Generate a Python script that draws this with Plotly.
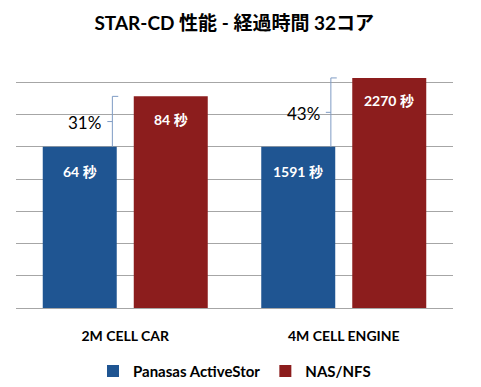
import plotly.graph_objects as go

categories = ["2M CELL CAR", "4M CELL ENGINE"]
series_names = ["Panasas ActiveStor", "NAS/NFS"]
panasas_sec = [64, 1591]
nas_sec = [84, 2270]
title_text = "STAR-CD 性能 - 経過時間 32コア"
unit = "秒"

BLUE = "#1F5592"
RED = "#8C1D1D"
BRACE = "#7F9CC4"
FONT = "Lato, 'Noto Sans CJK JP', sans-serif"

# normalised heights (Panasas = 1.0)
blue_h = [p / p for p in panasas_sec]
red_h = [n / p for n, p in zip(nas_sec, panasas_sec)]

fig = go.Figure()
fig.add_trace(go.Bar(x=categories, y=blue_h, name=series_names[0],
                     marker=dict(color=BLUE, line=dict(width=0)), hoverinfo="skip"))
fig.add_trace(go.Bar(x=categories, y=red_h, name=series_names[1],
                     marker=dict(color=RED, line=dict(width=0)), hoverinfo="skip"))

annotations = []
shapes = []
slot = 0.5 * (1 - 0.167)  # bar slot width in category units
for i, cat in enumerate(categories):
    xb = i - slot / 2
    xr = i + slot / 2
    annotations.append(dict(x=xb, y=blue_h[i], xref="x", yref="y", yshift=-25,
                            text=f"{panasas_sec[i]} {unit}", showarrow=False,
                            font=dict(family=FONT, size=14, color="white", weight="bold")))
    annotations.append(dict(x=xr, y=red_h[i], xref="x", yref="y", yshift=-23,
                            text=f"{nas_sec[i]} {unit}", showarrow=False,
                            font=dict(family=FONT, size=14, color="white", weight="bold")))
    # brace
    bx = i - 0.059
    ytop = red_h[i]
    ybot = blue_h[i]
    ymid = (ytop + ybot) / 2
    shapes.append(dict(type="path", xref="x", yref="y",
                       path=f"M {bx+0.027},{ytop} L {bx},{ytop} L {bx},{ybot} "
                            f"M {bx},{ymid} L {bx-0.023},{ymid}",
                       line=dict(color=BRACE, width=1)))
    pct = round((nas_sec[i] / panasas_sec[i] - 1) * 100)
    annotations.append(dict(x=bx, y=ymid, xref="x", yref="y", xanchor="right",
                            xshift=-9, yshift=-1, text=f"{pct}%", showarrow=False,
                            font=dict(family=FONT, size=17, color="black")))

fig.update_layout(
    width=481, height=387,
    margin=dict(l=16, r=28, t=50, b=79, autoexpand=False),
    paper_bgcolor="white", plot_bgcolor="white",
    title=dict(text=title_text, x=0.487, xanchor="center", y=0.94, yanchor="middle",
               font=dict(family=FONT, size=19, color="black", weight="bold")),
    barmode="group", bargap=0.167, bargroupgap=0.187,
    showlegend=True,
    legend=dict(orientation="h", x=0.5, xanchor="center", y=-0.245, yanchor="middle",
                font=dict(family=FONT, size=15, color="black", weight="bold"),
                itemwidth=30, traceorder="normal"),
    annotations=annotations, shapes=shapes,
)
fig.update_xaxes(showgrid=False, showline=False, ticks="", ticklabelstandoff=18,
                 automargin=False,
                 tickfont=dict(family=FONT, size=14, color="black", weight="bold"))
fig.update_yaxes(range=[0, 1.6], dtick=0.2, showticklabels=False, showgrid=True,
                 automargin=False,
                 gridcolor="#A6A6A6", gridwidth=1, zeroline=True, zerolinecolor="#A6A6A6",
                 zerolinewidth=1, showline=False)

fig.write_html("out.html")
